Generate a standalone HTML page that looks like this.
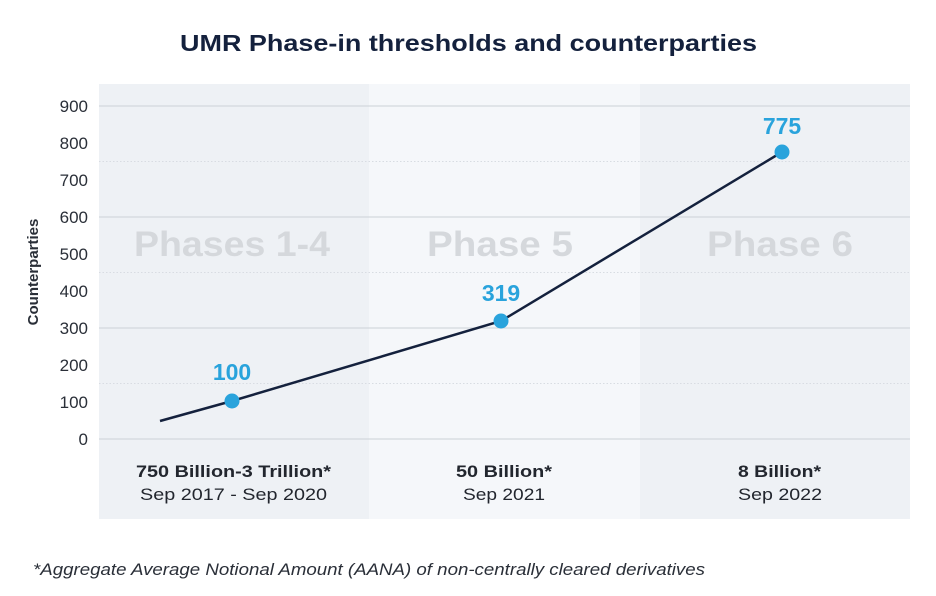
<!DOCTYPE html>
<html><head><meta charset="utf-8"><style>
body{margin:0;background:#fff;}
svg{display:block;font-family:"Liberation Sans",sans-serif;}
</style></head><body>
<svg width="936" height="596" viewBox="0 0 936 596">
<rect x="0" y="0" width="936" height="596" fill="#fff"/>
<text x="180" y="51" textLength="577" lengthAdjust="spacingAndGlyphs" font-size="23" font-weight="bold" fill="#14213d">UMR Phase-in thresholds and counterparties</text>
<rect x="99" y="84" width="270" height="435" fill="#eef1f5"/>
<rect x="369" y="84" width="271" height="435" fill="#f5f7fa"/>
<rect x="640" y="84" width="270" height="435" fill="#eef1f5"/>
<g stroke="#d3d8de" stroke-width="1.3">
<line x1="99" y1="106" x2="910" y2="106"/>
<line x1="99" y1="217" x2="910" y2="217"/>
<line x1="99" y1="328" x2="910" y2="328"/>
<line x1="99" y1="439" x2="910" y2="439"/>
</g>
<g stroke="#d8dce2" stroke-width="1" stroke-dasharray="1.5 2">
<line x1="99" y1="161.5" x2="910" y2="161.5"/>
<line x1="99" y1="272.5" x2="910" y2="272.5"/>
<line x1="99" y1="383.5" x2="910" y2="383.5"/>
</g>
<g font-size="35" font-weight="bold" fill="#d5d8dc">
<text x="134" y="256" textLength="196" lengthAdjust="spacingAndGlyphs">Phases 1-4</text>
<text x="427" y="256" textLength="146" lengthAdjust="spacingAndGlyphs">Phase 5</text>
<text x="707" y="256" textLength="146" lengthAdjust="spacingAndGlyphs">Phase 6</text>
</g>
<g font-size="17" fill="#2a2f38" text-anchor="end">
<text x="88" y="112">900</text>
<text x="88" y="149">800</text>
<text x="88" y="186">700</text>
<text x="88" y="223">600</text>
<text x="88" y="260">500</text>
<text x="88" y="297">400</text>
<text x="88" y="334">300</text>
<text x="88" y="371">200</text>
<text x="88" y="408">100</text>
<text x="88" y="445">0</text>
</g>
<text transform="translate(38,272) rotate(-90)" text-anchor="middle" font-size="15" font-weight="bold" fill="#2a2f38">Counterparties</text>
<polyline points="160,421 232,401 501,321 782,152" fill="none" stroke="#14213d" stroke-width="2.5"/>
<g fill="#29a3dc">
<circle cx="232" cy="401" r="7.5"/>
<circle cx="501" cy="321" r="7.5"/>
<circle cx="782" cy="152" r="7.5"/>
<g font-size="23" font-weight="bold" text-anchor="middle">
<text x="232" y="380">100</text>
<text x="501" y="301">319</text>
<text x="782" y="134">775</text>
</g>
</g>
<g fill="#22262e" font-size="17">
<text x="136" y="477" font-weight="bold" textLength="195" lengthAdjust="spacingAndGlyphs">750 Billion-3 Trillion*</text>
<text x="140" y="500" textLength="187" lengthAdjust="spacingAndGlyphs">Sep 2017 - Sep 2020</text>
<text x="456" y="477" font-weight="bold" textLength="96" lengthAdjust="spacingAndGlyphs">50 Billion*</text>
<text x="463" y="500" textLength="82" lengthAdjust="spacingAndGlyphs">Sep 2021</text>
<text x="738" y="477" font-weight="bold" textLength="83" lengthAdjust="spacingAndGlyphs">8 Billion*</text>
<text x="738" y="500" textLength="84" lengthAdjust="spacingAndGlyphs">Sep 2022</text>
</g>
<text x="33" y="575" font-size="16.5" font-style="italic" fill="#2a2f38" textLength="672" lengthAdjust="spacingAndGlyphs">*Aggregate Average Notional Amount (AANA) of non-centrally cleared derivatives</text>
</svg>
</body></html>
